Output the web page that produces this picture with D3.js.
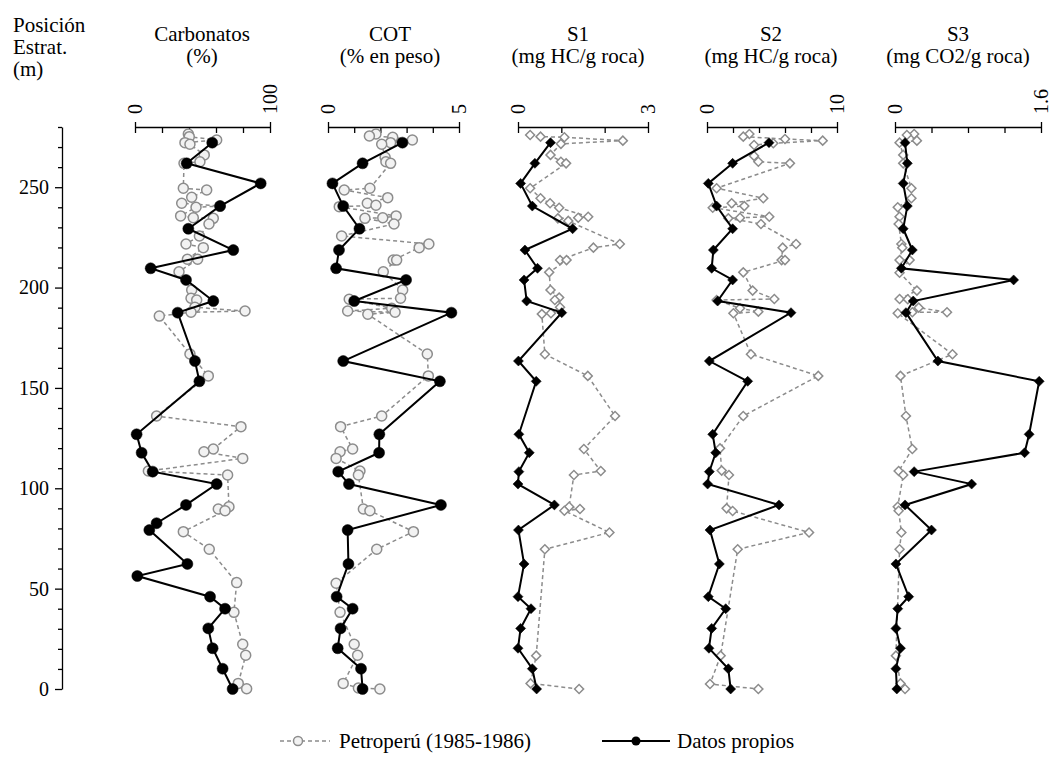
<!DOCTYPE html>
<html lang="es">
<head>
<meta charset="UTF-8">
<title>Perfil geoquímico</title>
<script src="https://d3js.org/d3.v7.min.js"></script>
<style>
  body { margin: 0; background: #fff; }
  svg { display: block; font-family: "Liberation Serif", "Times New Roman", serif; }
</style>
</head>
<body>
<div id="chart"></div>
<script>
// panel headers and axis ranges
const panelTitles = ["Carbonatos", "COT", "S1", "S2", "S3"];
const panelUnits = ["(%)", "(% en peso)", "(mg HC/g roca)", "(mg HC/g roca)", "(mg CO2/g roca)"];
const panelMax = [100, 5, 3, 10, 1.6];
const panelMinorStep = [20, 1, 1, 2, 0.4];
const depthTicks = [0, 50, 100, 150, 200, 250];
const legendLabels = ["Petroperú (1985-1986)", "Datos propios"];

// [posición estratigráfica (m), valor]
const carbPetro = [[276.5,39.5],[275.2,40.2],[273.5,60.5],[272.2,37.0],[271.4,40.7],[266.1,51.3],[262.7,48.1],[261.9,36.3],[249.5,35.8],[248.6,53.1],[245,42],[242,34.6],[240.6,63],[240,45.2],[235.7,33.8],[234.8,43.2],[234.5,58],[231.7,54.8],[225.7,47.7],[221.7,37.8],[219.9,50.6],[214.1,38.8],[214.1,46.4],[207.9,32.6],[198.8,42],[194.7,41.5],[193.8,45.7],[190.2,44.4],[188.3,81.5],[187.7,41.5],[185.8,18],[166.9,40.7],[156,54.3],[136,16],[130.7,78.5],[119.6,58],[118.2,51.1],[114.9,79.8],[108.6,9.9],[106.6,68.6],[90.8,69.6],[89.7,61.7],[88.8,66.7],[78.4,35.8],[69.6,55],[53,75.3],[38.2,73.3],[22.3,79.8],[16.8,82],[2.8,76.5],[0.1,82.7]];
const carbPropios = [[272.2,57.2],[261.9,38.3],[251.9,93.1],[240.6,63],[229.3,39.5],[218.7,72.8],[209.6,11.6],[203.8,37.8],[193.3,58],[187.5,31.6],[163.4,44.4],[153.3,47.7],[126.9,1.2],[117.7,4.9],[108.3,13.1],[102.1,60.5],[91.7,37.8],[82.6,16],[79.2,10.6],[62.3,38.8],[56.3,1.7],[46,55.6],[40,66.7],[30.2,54.3],[20.3,57.5],[10.1,64.9],[0,72.3]];

const cotPetro = [[276.5,1.83],[275.5,1.58],[274.9,2.47],[273.5,3.22],[272.2,2.39],[271.4,2.05],[264.9,2.18],[262.7,2.21],[261.9,2.39],[249.5,1.60],[248.6,0.62],[244.8,2.28],[242,1.50],[241,1.83],[240.3,0.43],[235.7,2.60],[234.8,2.09],[234.5,1.41],[231.7,2.52],[225.7,0.52],[221.7,3.85],[219.9,3.48],[213.7,2.49],[213.7,2.62],[207.9,2.11],[198.8,2.85],[194.7,2.77],[194.2,0.81],[189.7,2.43],[188.3,0.75],[187.7,2.56],[186.7,1.52],[166.9,3.79],[156,3.83],[136,2.05],[130.7,0.48],[119.6,0.94],[118.2,0.46],[114.9,0.31],[108.6,1.22],[106.6,1.16],[89.7,1.35],[88.8,1.60],[78.4,3.26],[69.6,1.86],[52.7,0.31],[38.2,0.46],[22.3,1.00],[16.8,1.13],[2.8,0.58],[0.5,1.16],[0,1.98]];
const cotPropios = [[272.2,2.84],[261.9,1.32],[251.9,0.17],[240.6,0.58],[229.3,1.20],[218.7,0.42],[209.6,0.31],[203.8,2.98],[193.3,1.0],[187.5,4.71],[163.4,0.58],[153.3,4.27],[126.9,1.96],[117.7,1.95],[108.3,0.39],[102.1,0.80],[91.7,4.31],[79.2,0.75],[62.3,0.78],[46,0.33],[40,0.94],[30.2,0.48],[20.3,0.37],[10.1,1.26],[0,1.32]];

const s1Petro = [[276,0.28],[275.2,0.52],[274.9,1.07],[273.2,2.42],[271.6,0.99],[266.1,0.75],[262.7,0.99],[261.9,1.11],[249.5,0.28],[244.5,0.52],[242,0.74],[239.8,0.95],[235.3,1.62],[234.8,1.39],[234.5,0.92],[233.2,1.16],[221.7,2.35],[219.9,1.74],[213.7,0.97],[213.7,1.12],[207.6,0.72],[198.8,0.75],[195,0.95],[193.8,0.85],[190.2,0.97],[187.2,0.76],[186.8,0.55],[166.8,0.62],[156,1.61],[136,2.24],[119.6,1.52],[108.6,1.91],[106.6,1.29],[90.8,1.18],[89.7,1.43],[88.8,1.07],[78,2.11],[69.6,0.62],[16.6,0.42],[2.8,0.29],[0,1.41]];
const s1Propios = [[272.2,0.75],[261.9,0.39],[251.9,0.06],[240.6,0.33],[229.3,1.26],[218.7,0.16],[209.6,0.45],[203.8,0.14],[193.3,0.20],[187.5,1.01],[163.4,0.01],[153.3,0.42],[126.9,0.02],[117.7,0.26],[108.3,0.02],[102.1,0.0],[91.7,0.84],[79.2,0.01],[62.3,0.14],[46,0],[40,0.30],[30.2,0.06],[20.3,0],[10.1,0.33],[0,0.43]];

const s2Petro = [[276.5,3.26],[275.2,2.79],[274,6.0],[273.2,8.9],[271.9,5.1],[271,3.62],[265.6,3.62],[262.7,3.95],[261.9,6.38],[249.5,0.74],[244.5,4.33],[242,1.9],[240.6,2.87],[239.8,0.44],[235.3,4.79],[234.8,2.54],[234.5,1.64],[231.7,4.15],[221.7,6.85],[219.9,5.82],[213.7,5.74],[213.7,6.0],[207.6,2.79],[198.5,3.51],[194.3,5.18],[193.8,0.74],[189.7,2.54],[188,3.95],[187.2,2.03],[166.8,3.38],[156,8.56],[136,2.79],[119.9,1.0],[108.8,1.13],[106.6,1.69],[90,1.51],[88.7,1.97],[78,7.85],[69.6,2.36],[16.6,1.05],[2.5,0.23],[0,3.95]];
const s2Propios = [[272.2,4.77],[261.9,1.97],[251.9,0.1],[240.6,0.74],[229.3,1.97],[218.7,0.49],[209.6,0.36],[203.8,1.97],[193.3,0.82],[187.5,6.46],[163.4,0.18],[153.3,3.13],[126.9,0.44],[117.7,0.67],[108.3,0.18],[102.1,0.05],[91.7,5.54],[79.2,0.23],[62.3,0.95],[46,0.1],[40,1.44],[30.2,0.36],[20.3,0.15],[10.1,1.64],[0,1.82]];

const s3Petro = [[276.5,0.21],[276,0.13],[273.2,0.24],[272.2,0.05],[266.1,0.09],[261.9,0.09],[249.5,0.18],[244.5,0.18],[240,0.03],[235.3,0.05],[231.7,0.04],[221.7,0.07],[219.9,0.08],[213.7,0.05],[213.7,0.16],[207.4,0.05],[198.5,0.24],[194.3,0.05],[194.2,0.14],[190,0.26],[187.7,0.57],[187.7,0.19],[187.2,0.03],[166.8,0.63],[156,0.06],[136,0.12],[119.6,0.19],[108.6,0.04],[106.6,0.09],[90.8,0.03],[88.8,0.04],[78,0.07],[69.6,0.05],[16.6,0.01],[2.8,0.06],[0,0.11]];
const s3Propios = [[272.2,0.11],[261.9,0.135],[251.9,0.09],[240.6,0.135],[229.3,0.09],[218.7,0.19],[209.6,0.07],[203.8,1.30],[193.3,0.20],[187.5,0.12],[163.4,0.47],[153.3,1.58],[126.9,1.47],[117.7,1.42],[108.3,0.21],[102.1,0.84],[91.7,0.11],[79.2,0.40],[62.3,0.01],[46,0.15],[40,0.03],[30.2,0.01],[20.3,0.06],[10.1,0.01],[0,0.02]];

const petroSeries = [carbPetro, cotPetro, s1Petro, s2Petro, s3Petro];
const propiosSeries = [carbPropios, cotPropios, s1Propios, s2Propios, s3Propios];

// layout
const width = 1050, height = 769;
const axisTop = 127, axisBottom = 689;
const panelLeft = [135, 328, 518, 707, 895];
const panelWidth = [135, 131, 130, 130, 146];
const titleX = [202, 390, 578, 771, 958];
const markerShape = ["circle", "circle", "diamond", "diamond", "diamond"];
const grey = "#8c8c8c";
const fontSize = 20;
const titleSize = 21;
const legendSize = 21;

const svg = d3.select("#chart").append("svg")
    .attr("width", width)
    .attr("height", height);

const y = d3.scaleLinear().domain([0, 280]).range([axisBottom, axisTop]);

// depth axis
const yAxisX = 62;
const yg = svg.append("g").attr("transform", `translate(${yAxisX},0)`);
yg.append("g")
    .call(d3.axisLeft(y).tickValues(d3.range(0, 281, 10).filter(v => v % 50 !== 0)).tickSize(4).tickSizeOuter(0).tickFormat(""))
    .call(g => g.select(".domain").remove());
yg.append("g")
    .call(d3.axisLeft(y).tickValues(depthTicks).tickSize(7).tickSizeOuter(0).tickPadding(6))
    .call(g => g.selectAll("text").attr("font-size", fontSize).attr("font-family", "Liberation Serif").attr("fill", "#000"));
yg.selectAll("line, path").attr("stroke", "#000").attr("stroke-width", 1.3);

svg.append("text").attr("x", 13).attr("font-size", titleSize)
    .selectAll("tspan").data(["Posición", "Estrat.", "(m)"]).join("tspan")
    .attr("x", 13).attr("y", (d, i) => 32 + i * 22).text(d => d);

function marker(sel, shape, r) {
    if (shape === "circle") {
        sel.append("circle").attr("r", r);
    } else {
        sel.append("path")
            .attr("d", d3.symbol(d3.symbolSquare, 2 * r * r)())
            .attr("transform", "rotate(45)");
    }
}

panelTitles.forEach((title, i) => {
    const x = d3.scaleLinear().domain([0, panelMax[i]]).range([panelLeft[i], panelLeft[i] + panelWidth[i]]);
    const g = svg.append("g");

    // titles
    g.append("text").attr("x", titleX[i]).attr("y", 40.7).attr("text-anchor", "middle")
        .attr("font-size", titleSize).text(title);
    g.append("text").attr("x", titleX[i]).attr("y", 62.7).attr("text-anchor", "middle")
        .attr("font-size", titleSize).text(panelUnits[i]);

    // top axis: minor ticks downward, end ticks crossing
    const n = Math.round(panelMax[i] / panelMinorStep[i]);
    const minor = d3.range(n + 1).map(k => k * panelMinorStep[i]);
    const ax = g.append("g").attr("transform", `translate(0,${axisTop})`);
    ax.append("g").call(d3.axisTop(x).tickValues(minor).tickSize(-6).tickSizeOuter(0).tickFormat(""));
    ax.append("g").call(d3.axisTop(x).tickValues([0, panelMax[i]]).tickSize(5).tickSizeOuter(0).tickFormat(""))
        .call(a => a.select(".domain").remove());
    ax.selectAll("line, path").attr("stroke", "#000").attr("stroke-width", 1.3);

    [0, panelMax[i]].forEach(v => {
        g.append("text")
            .attr("transform", `translate(${x(v) + 6.5},${axisTop - 13}) rotate(-90)`)
            .attr("font-size", fontSize)
            .text(v);
    });

    const line = d3.line().x(d => x(d[1])).y(d => y(d[0]));
    const r = markerShape[i] === "circle" ? 5 : 4.5;

    // Petroperú series
    g.append("path").datum(petroSeries[i]).attr("d", line)
        .attr("fill", "none").attr("stroke", grey).attr("stroke-width", 1.5).attr("stroke-dasharray", "4,3");
    g.append("g").selectAll("g").data(petroSeries[i]).join("g")
        .attr("transform", d => `translate(${x(d[1])},${y(d[0])})`)
        .each(function() { marker(d3.select(this), markerShape[i], r); })
        .selectAll("circle, path")
        .attr("fill", markerShape[i] === "circle" ? "#f2f2f2" : "#fff")
        .attr("stroke", grey).attr("stroke-width", 1.5);

    // Datos propios series
    g.append("path").datum(propiosSeries[i]).attr("d", line)
        .attr("fill", "none").attr("stroke", "#000").attr("stroke-width", 2);
    g.append("g").selectAll("g").data(propiosSeries[i]).join("g")
        .attr("transform", d => `translate(${x(d[1])},${y(d[0])})`)
        .each(function() { marker(d3.select(this), markerShape[i], markerShape[i] === "circle" ? 5.5 : 5); })
        .selectAll("circle, path")
        .attr("fill", "#000").attr("stroke", "#000").attr("stroke-width", 0.5);
});

// legend
const legendY = 741;
const lg = svg.append("g");
lg.append("line").attr("x1", 280).attr("x2", 330).attr("y1", legendY).attr("y2", legendY)
    .attr("stroke", grey).attr("stroke-width", 1.5).attr("stroke-dasharray", "4,3");
lg.append("circle").attr("cx", 298).attr("cy", legendY).attr("r", 4.5)
    .attr("fill", "#f2f2f2").attr("stroke", grey).attr("stroke-width", 1.5);
lg.append("text").attr("x", 339).attr("y", legendY + 7).attr("font-size", legendSize).text(legendLabels[0]);
lg.append("line").attr("x1", 602).attr("x2", 670).attr("y1", legendY).attr("y2", legendY)
    .attr("stroke", "#000").attr("stroke-width", 2);
lg.append("circle").attr("cx", 636).attr("cy", legendY).attr("r", 4.5).attr("fill", "#000");
lg.append("text").attr("x", 677).attr("y", legendY + 7).attr("font-size", legendSize).text(legendLabels[1]);
</script>
</body>
</html>
